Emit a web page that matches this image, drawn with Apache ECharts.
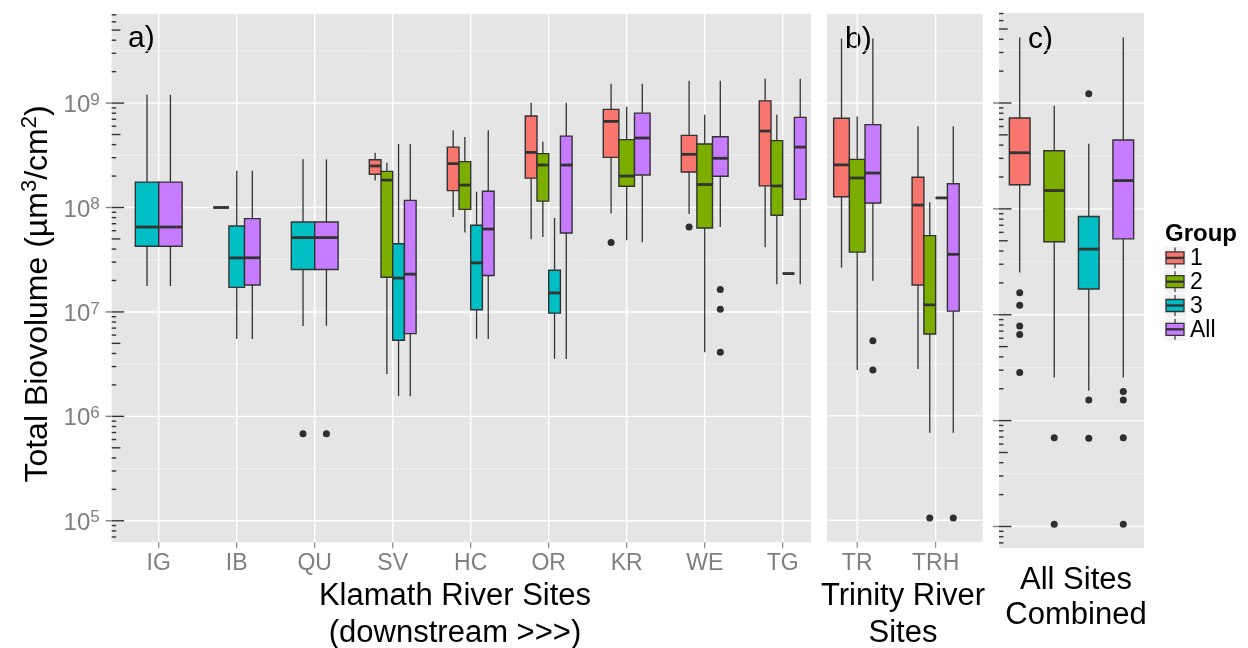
<!DOCTYPE html>
<html>
<head>
<meta charset="utf-8">
<script src="https://cdn.jsdelivr.net/npm/echarts@6/dist/echarts.min.js"></script>
<style>
  html, body { margin: 0; padding: 0; background: #ffffff; }
  #chart { width: 1248px; height: 648px; }
</style>
</head>
<body>
<div id="chart"></div>
<script>
// ---- data -----------------------------------------------------------------
const klamathSites = ['IG', 'IB', 'QU', 'SV', 'HC', 'OR', 'KR', 'WE', 'TG'];
const trinitySites = ['TR', 'TRH'];
const groupNames = ['1', '2', '3', 'All'];

// Box statistics in µm³/cm²: [lower whisker, Q1, median, Q3, upper whisker]; null = group absent at site
const klamathGroup1 = [null, [1e8, 1e8, 1e8, 1e8, 1e8], null,
  [1.81e8, 2.08e8, 2.5e8, 2.87e8, 3.35e8], [8.1e7, 1.45e8, 2.63e8, 3.79e8, 5.48e8],
  [4.97e7, 1.91e8, 3.37e8, 7.52e8, 1.01e9], [8.75e7, 3.02e8, 6.68e8, 8.7e8, 1.53e9],
  [8.67e7, 2.19e8, 3.23e8, 4.91e8, 1.64e9], [4.16e7, 1.61e8, 5.4e8, 1.05e9, 1.71e9]];
const klamathGroup2 = [null, null, null,
  [2.55e6, 2.15e7, 1.83e8, 2.22e8, 2.69e8], [5.75e7, 9.6e7, 1.64e8, 2.75e8, 4.73e8],
  [5.22e7, 1.15e8, 2.55e8, 3.28e8, 4.27e8], [4.85e7, 1.6e8, 2.0e8, 4.47e8, 9.24e8],
  [4.11e6, 6.37e7, 1.66e8, 4.06e8, 7.74e8], [1.84e7, 8.42e7, 1.61e8, 4.37e8, 7.74e8]];
const klamathGroup3 = [[1.77e7, 4.26e7, 6.5e7, 1.75e8, 1.2e9], [5.52e6, 1.72e7, 3.29e7, 6.65e7, 2.25e8],
  [7.35e6, 2.55e7, 5.15e7, 7.26e7, 2.89e8], [1.56e6, 5.36e6, 2.11e7, 4.5e7, 4.06e8],
  [5.52e6, 1.05e7, 2.95e7, 6.77e7, 1.42e8], [3.55e6, 9.73e6, 1.52e7, 2.51e7, 7.94e7],
  null, null, [2.33e7, 2.33e7, 2.33e7, 2.33e7, 2.33e7]];
const klamathAll = [[1.77e7, 4.26e7, 6.5e7, 1.75e8, 1.2e9], [5.52e6, 1.81e7, 3.3e7, 7.83e7, 2.25e8],
  [7.35e6, 2.55e7, 5.15e7, 7.26e7, 2.89e8], [1.56e6, 6.2e6, 2.3e7, 1.17e8, 4.06e8],
  [5.52e6, 2.23e7, 6.22e7, 1.43e8, 5.48e8], [3.55e6, 5.7e7, 2.55e8, 4.83e8, 1.01e9],
  [4.65e7, 2.05e8, 4.63e8, 8.02e8, 1.53e9], [6.5e7, 1.99e8, 2.96e8, 4.76e8, 1.64e9],
  [1.84e7, 1.2e8, 3.79e8, 7.3e8, 1.71e9]];
// [site, group, value]
const klamathOutliers = [['QU', '3', 6.8e5], ['QU', 'All', 6.8e5], ['KR', '1', 4.61e7],
  ['WE', '1', 6.5e7], ['WE', 'All', 1.64e7], ['WE', 'All', 1.06e7], ['WE', 'All', 4.11e6]];

const trinityGroup1 = [[2.64e7, 1.26e8, 2.55e8, 7.13e8, 4.15e9], [2.82e6, 1.8e7, 1.05e8, 1.94e8, 5.98e8]];
const trinityGroup2 = [[2.75e6, 3.72e7, 1.91e8, 2.88e8, 7.4e8], [6.9e5, 6.1e6, 1.16e7, 5.35e7, 1.12e8]];
const trinityGroup3 = [null, [1.23e8, 1.23e8, 1.23e8, 1.23e8, 1.23e8]];
const trinityAll = [[1.98e7, 1.1e8, 2.13e8, 6.2e8, 4.15e9], [6.9e5, 1.01e7, 3.54e7, 1.68e8, 5.98e8]];
const trinityOutliers = [['TR', 'All', 5.26e6], ['TR', 'All', 2.75e6], ['TRH', '2', 1.05e5], ['TRH', 'All', 1.05e5]];

// all sites pooled, one box per group
const combinedStats = [[2.51e7, 1.69e8, 3.39e8, 7.21e8, 4.15e9], [2.55e6, 4.89e7, 1.49e8, 3.54e8, 9.43e8],
  [1.91e6, 1.75e7, 4.17e7, 8.47e7, 4.12e8], [2.55e6, 5.21e7, 1.85e8, 4.47e8, 4.15e9]];
const combinedOutliers = [['1', 1.61e7], ['1', 1.23e7], ['1', 7.85e6], ['1', 6.5e6], ['1', 2.85e6],
  ['2', 6.9e5], ['2', 1.05e5], ['3', 1.22e9], ['3', 1.57e6], ['3', 6.82e5],
  ['All', 1.88e6], ['All', 1.57e6], ['All', 6.9e5], ['All', 1.05e5]];

// ---- styling ----------------------------------------------------------------
const FONT = '"Liberation Sans", Arial, sans-serif';
const fills = ['#F8766D', '#7CAE00', '#00BFC4', '#C77CFF'];
const LOG_RANGE = [4.794, 9.853];          // shared log10 extent of the three panels
const DODGE = 0.6;                          // total width of a site's dodged boxes
const log10 = Math.log10;

// ---- helpers ----------------------------------------------------------------
function dodgeSlots(byGroup, site) {
  const present = [];
  byGroup.forEach((arr, g) => { if (arr[site]) present.push(g); });
  const w = DODGE / present.length;
  const slots = {};
  present.forEach((g, k) => { slots[g] = { x: site - DODGE / 2 + w * (k + 0.5), w: w }; });
  return slots;
}

function siteBoxes(sites, byGroup) {
  const items = [];
  sites.forEach((_, s) => {
    const slots = dodgeSlots(byGroup, s);
    Object.keys(slots).forEach(g => {
      const gi = +g;
      items.push([slots[g].x].concat(byGroup[gi][s].map(log10), [slots[g].w, gi]));
    });
  });
  return items;
}

function siteOutliers(sites, byGroup, list) {
  return list.map(([site, grp, v]) => {
    const s = sites.indexOf(site);
    const g = groupNames.indexOf(grp);
    return [dodgeSlots(byGroup, s)[g].x, log10(v)];
  });
}

// guide kinds: 0 major h-line, 1 minor h-line, 2 v-line, 3 x tick, 4 log tick (inner), 5 y tick (outer)
function guideItems(nCats, opt) {
  const items = [];
  for (let n = 4; n <= 10; n++) {
    if (n + 0.5 >= LOG_RANGE[0] && n + 0.5 <= LOG_RANGE[1]) items.push([1, n + 0.5, 0]);
  }
  for (let n = 4; n <= 10; n++) {
    if (n >= LOG_RANGE[0] && n <= LOG_RANGE[1]) items.push([0, n, 0]);
  }
  if (opt.vlines) for (let i = 0; i < nCats; i++) items.push([2, i, 0]);
  if (opt.xticks) for (let i = 0; i < nCats; i++) items.push([3, i, 0]);
  if (opt.logTicks) {
    for (let n = 4; n <= 10; n++) {
      for (let k = 1; k <= 9; k++) {
        const v = log10(k * Math.pow(10, n));
        if (v >= LOG_RANGE[0] && v <= LOG_RANGE[1]) items.push([4, v, k]);
      }
    }
  }
  if (opt.yticks) for (let n = 4; n <= 10; n++) {
    if (n >= LOG_RANGE[0] && n <= LOG_RANGE[1]) items.push([5, n, 0]);
  }
  return items;
}

function renderGuide(params, api) {
  const cs = params.coordSys;
  const kind = api.value(0), v = api.value(1), k = api.value(2);
  if (kind === 0 || kind === 1) {
    const y = api.coord([0, v])[1];
    return { type: 'line', shape: { x1: cs.x, y1: y, x2: cs.x + cs.width, y2: y },
      style: { stroke: kind === 0 ? '#FFFFFF' : '#F2F2F2', lineWidth: kind === 0 ? 1.4 : 0.9 } };
  }
  if (kind === 2) {
    const x = api.coord([v, LOG_RANGE[0]])[0];
    return { type: 'line', shape: { x1: x, y1: cs.y, x2: x, y2: cs.y + cs.height },
      style: { stroke: '#FFFFFF', lineWidth: 1.4 } };
  }
  if (kind === 3) {
    const x = api.coord([v, LOG_RANGE[0]])[0];
    const y0 = cs.y + cs.height;
    return { type: 'line', shape: { x1: x, y1: y0, x2: x, y2: y0 + 6 },
      style: { stroke: '#7F7F7F', lineWidth: 1.1 } };
  }
  if (kind === 4) {
    const y = api.coord([0, v])[1];
    const len = k === 1 ? 12.5 : (k === 5 ? 8.7 : 4.5);
    return { type: 'line', shape: { x1: cs.x, y1: y, x2: cs.x + len, y2: y },
      style: { stroke: '#333333', lineWidth: 1.4 } };
  }
  const y = api.coord([0, v])[1];
  return { type: 'line', shape: { x1: cs.x - 6, y1: y, x2: cs.x, y2: y },
    style: { stroke: '#7F7F7F', lineWidth: 1.4 } };
}

function renderBox(params, api) {
  const x = api.value(0);
  const lo = api.value(1), q1 = api.value(2), md = api.value(3), q3 = api.value(4), hi = api.value(5);
  const half = api.size([api.value(6), 0])[0] / 2;
  const gi = api.value(7);
  const pLo = api.coord([x, lo]), pHi = api.coord([x, hi]);
  const pQ1 = api.coord([x, q1]), pQ3 = api.coord([x, q3]), pMd = api.coord([x, md]);
  return {
    type: 'group',
    children: [
      { type: 'line', shape: { x1: pLo[0], y1: pLo[1], x2: pHi[0], y2: pHi[1] },
        style: { stroke: '#333333', lineWidth: 1.3 } },
      { type: 'rect', shape: { x: pQ3[0] - half, y: pQ3[1], width: 2 * half, height: pQ1[1] - pQ3[1] },
        style: { fill: fills[gi], stroke: '#333333', lineWidth: 1.4 } },
      { type: 'line', shape: { x1: pMd[0] - half, y1: pMd[1], x2: pMd[0] + half, y2: pMd[1] },
        style: { stroke: '#333333', lineWidth: 2.8 } }
    ]
  };
}

const tickLabelStyle = { color: '#7F7F7F', fontSize: 23, fontFamily: FONT };

function xAxisFor(gridIndex, cats, min, max) {
  return {
    type: 'value', gridIndex, min, max,
    axisLine: { show: false }, axisTick: { show: false }, splitLine: { show: false },
    axisLabel: cats ? Object.assign({
      customValues: cats.map((_, i) => i),
      formatter: v => (Math.abs(v - Math.round(v)) < 1e-6 && cats[Math.round(v)]) ? cats[Math.round(v)] : '',
      margin: 10
    }, tickLabelStyle) : { show: false }
  };
}

function yAxisFor(gridIndex, labels) {
  return {
    type: 'value', gridIndex, min: LOG_RANGE[0], max: LOG_RANGE[1],
    axisLine: { show: false }, axisTick: { show: false }, splitLine: { show: false },
    axisLabel: labels ? {
      customValues: [5, 6, 7, 8, 9],
      formatter: v => Math.abs(v - Math.round(v)) < 1e-6 ? '{b|10}{s|' + Math.round(v) + '}' : '',
      margin: 12,
      padding: [5, 0, 0, 0],
      rich: {
        b: { color: '#7F7F7F', fontSize: 24, fontFamily: FONT, lineHeight: 28 },
        s: { color: '#7F7F7F', fontSize: 17, fontFamily: FONT, lineHeight: 12, verticalAlign: 'top' }
      }
    } : { show: false }
  };
}

const klamathByGroup = [klamathGroup1, klamathGroup2, klamathGroup3, klamathAll];
const trinityByGroup = [trinityGroup1, trinityGroup2, trinityGroup3, trinityAll];

const guideSeries = (i, items) => ({
  type: 'custom', xAxisIndex: i, yAxisIndex: i, z: 1, silent: true,
  renderItem: renderGuide, data: items
});
const boxSeries = (i, items) => ({
  type: 'custom', xAxisIndex: i, yAxisIndex: i, z: 2, silent: true,
  renderItem: renderBox, data: items
});
const pointSeries = (i, items) => ({
  type: 'scatter', xAxisIndex: i, yAxisIndex: i, z: 3, silent: true,
  symbol: 'circle', symbolSize: 7, itemStyle: { color: '#000000' }, data: items
});

// ---- legend & text --------------------------------------------------------------
const graphics = [];
const legendTop = 246, keyH = 23.8;
graphics.push({ type: 'text', left: 1165, top: 222, style: { text: 'Group', font: 'bold 24px ' + FONT, fill: '#000' } });
groupNames.forEach((name, i) => {
  const y0 = legendTop + keyH * i, cy = y0 + keyH / 2;
  graphics.push({ type: 'rect', shape: { x: 1164, y: y0, width: 22, height: keyH }, style: { fill: '#F2F2F2', stroke: '#FFFFFF', lineWidth: 0.6 } });
  graphics.push({ type: 'line', shape: { x1: 1175, y1: y0 + 1.5, x2: 1175, y2: y0 + keyH - 1.5 }, style: { stroke: '#333333', lineWidth: 1.2 } });
  graphics.push({ type: 'rect', shape: { x: 1166, y: cy - 6, width: 18, height: 12 }, style: { fill: fills[i], stroke: '#333333', lineWidth: 1.3 } });
  graphics.push({ type: 'line', shape: { x1: 1166, y1: cy, x2: 1184, y2: cy }, style: { stroke: '#333333', lineWidth: 2.4 } });
  graphics.push({ type: 'text', x: 1190, y: cy + 1, style: { text: name, font: '23px ' + FONT, fill: '#000', verticalAlign: 'middle' } });
});
[['a)', 128, 39], ['b)', 845, 40], ['c)', 1028, 40]].forEach(([t, x, y]) => {
  graphics.push({ type: 'text', x, y, style: { text: t, font: '30px ' + FONT, fill: '#000', verticalAlign: 'middle' } });
});
const titleFont = '31px ' + FONT;
[['Klamath River Sites', 455, 596], ['(downstream >>>)', 455, 633], ['Trinity River', 903, 596], ['Sites', 903, 633],
 ['All Sites', 1076, 580], ['Combined', 1076, 615]].forEach(([t, x, y]) => {
  graphics.push({ type: 'text', x, y, style: { text: t, font: titleFont, fill: '#000', align: 'center', verticalAlign: 'middle' } });
});
graphics.push({
  type: 'text', x: 38, y: 294, rotation: Math.PI / 2,
  style: {
    text: '{n|Total Biovolume (µm}{s|3}{n|/cm}{s|2}{n|)}',
    align: 'center', verticalAlign: 'middle',
    rich: {
      n: { fontSize: 32, fontFamily: FONT, fill: '#000', lineHeight: 38 },
      s: { fontSize: 22, fontFamily: FONT, fill: '#000', lineHeight: 22, verticalAlign: 'top' }
    }
  }
});

// ---- chart ----------------------------------------------------------------
const gridBase = { show: true, backgroundColor: '#E5E5E5', borderWidth: 0, containLabel: false, outerBoundsMode: 'none' };
const option = {
  animation: false,
  backgroundColor: '#FFFFFF',
  grid: [
    Object.assign({ left: 111.7, top: 14, width: 699.3, height: 528.3 }, gridBase),
    Object.assign({ left: 827, top: 14, width: 155.7, height: 527.7 }, gridBase),
    Object.assign({ left: 999, top: 12.7, width: 145, height: 535.6 }, gridBase)
  ],
  xAxis: [
    xAxisFor(0, klamathSites, -0.603, 8.363),
    xAxisFor(1, trinitySites, -0.385, 1.6),
    xAxisFor(2, null, -0.6, 3.6)
  ],
  yAxis: [yAxisFor(0, true), yAxisFor(1, false), yAxisFor(2, false)],
  series: [
    guideSeries(0, guideItems(klamathSites.length, { vlines: true, xticks: true, logTicks: true, yticks: true })),
    boxSeries(0, siteBoxes(klamathSites, klamathByGroup)),
    pointSeries(0, siteOutliers(klamathSites, klamathByGroup, klamathOutliers)),
    guideSeries(1, guideItems(trinitySites.length, { vlines: true, xticks: true, logTicks: false, yticks: false })),
    boxSeries(1, siteBoxes(trinitySites, trinityByGroup)),
    pointSeries(1, siteOutliers(trinitySites, trinityByGroup, trinityOutliers)),
    guideSeries(2, guideItems(groupNames.length, { vlines: false, xticks: false, logTicks: true, yticks: true })),
    boxSeries(2, combinedStats.map((st, g) => [g].concat(st.map(log10), [DODGE, g]))),
    pointSeries(2, combinedOutliers.map(([grp, v]) => [groupNames.indexOf(grp), log10(v)]))
  ],
  graphic: graphics
};

const chart = echarts.init(document.getElementById('chart'), null, { renderer: 'canvas' });
chart.setOption(option);
</script>
</body>
</html>
